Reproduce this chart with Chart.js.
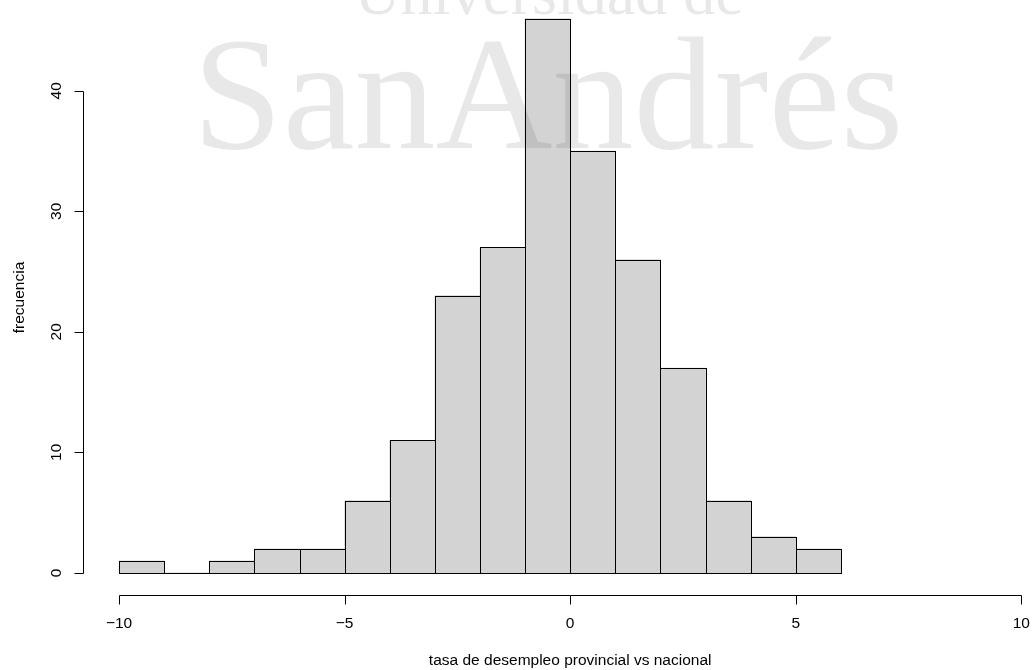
<!DOCTYPE html>
<html>
<head>
<meta charset="utf-8">
<script src="https://cdn.jsdelivr.net/npm/chart.js@4/dist/chart.umd.min.js"></script>
<style>
  html, body { margin: 0; padding: 0; background: #fff; }
  #hist { display: block; }
</style>
</head>
<body>
<canvas id="hist" width="1033" height="670"></canvas>
<script>
// histogram bins (edges) and counts
const binEdges = [-10, -9, -8, -7, -6, -5, -4, -3, -2, -1, 0, 1, 2, 3, 4, 5, 6];
const counts = [1, 0, 1, 2, 2, 6, 11, 23, 27, 46, 35, 26, 17, 6, 3, 2];

const xTicks = [-10, -5, 0, 5, 10];
const yTicks = [0, 10, 20, 30, 40];

const xTitle = 'tasa de desempleo provincial vs nacional';
const yTitle = 'frecuencia';
const watermarkTop = 'Universidad de';
const watermarkMain = 'SanAndrés';

const AXIS_FONT = '15.5px "Liberation Sans", Arial, Helvetica, sans-serif';

const points = counts.map((c, i) => ({ x: (binEdges[i] + binEdges[i + 1]) / 2, y: c }));

const fmt = v => String(v).replace('-', '\u2212');

// R-style outlines, axes, labels and the watermark
const rStylePlugin = {
    id: 'rStyle',
    afterDatasetsDraw(chart) {
        const ctx = chart.ctx;
        const meta = chart.getDatasetMeta(0);
        ctx.save();
        ctx.strokeStyle = '#000';
        ctx.lineWidth = 1;
        meta.data.forEach(bar => {
            const l = Math.round(bar.x - bar.width / 2) + 0.5;
            const r = Math.round(bar.x + bar.width / 2) + 0.5;
            const t = Math.round(bar.y) + 0.5;
            const b = Math.round(bar.base) + 0.5;
            ctx.strokeRect(l, Math.min(t, b), r - l, Math.abs(b - t));
        });
        ctx.restore();
    },
    afterDraw(chart) {
        const ctx = chart.ctx;
        const xs = chart.scales.x;
        const ys = chart.scales.y;
        const area = chart.chartArea;
        ctx.save();
        ctx.strokeStyle = '#000';
        ctx.fillStyle = '#000';
        ctx.lineWidth = 1;
        ctx.font = AXIS_FONT;

        // x axis
        const axY = Math.round(area.bottom) + 0.5;
        const x0 = Math.round(xs.getPixelForValue(xTicks[0])) + 0.5;
        const x1 = Math.round(xs.getPixelForValue(xTicks[xTicks.length - 1])) + 0.5;
        ctx.beginPath();
        ctx.moveTo(x0, axY);
        ctx.lineTo(x1, axY);
        xTicks.forEach(v => {
            const px = Math.round(xs.getPixelForValue(v)) + 0.5;
            ctx.moveTo(px, axY);
            ctx.lineTo(px, axY + 9);
        });
        ctx.stroke();
        ctx.textAlign = 'center';
        ctx.textBaseline = 'middle';
        xTicks.forEach(v => {
            ctx.fillText(fmt(v), xs.getPixelForValue(v), axY + 28);
        });
        const xMid = xs.getPixelForValue((xTicks[0] + xTicks[xTicks.length - 1]) / 2);
        ctx.fillText(xTitle, xMid, axY + 65);

        // y axis
        const axX = Math.round(area.left) + 0.5;
        const y0 = Math.round(ys.getPixelForValue(yTicks[0])) + 0.5;
        const y1 = Math.round(ys.getPixelForValue(yTicks[yTicks.length - 1])) + 0.5;
        ctx.beginPath();
        ctx.moveTo(axX, y0);
        ctx.lineTo(axX, y1);
        yTicks.forEach(v => {
            const py = Math.round(ys.getPixelForValue(v)) + 0.5;
            ctx.moveTo(axX, py);
            ctx.lineTo(axX - 9, py);
        });
        ctx.stroke();
        yTicks.forEach(v => {
            ctx.save();
            ctx.translate(axX - 27, ys.getPixelForValue(v));
            ctx.rotate(-Math.PI / 2);
            ctx.fillText(fmt(v), 0, 0);
            ctx.restore();
        });
        ctx.save();
        ctx.translate(axX - 64, (area.top + area.bottom) / 2);
        ctx.rotate(-Math.PI / 2);
        ctx.fillText(yTitle, 0, 0);
        ctx.restore();

        // watermark over the plot
        ctx.fillStyle = 'rgba(0, 0, 0, 0.09)';
        ctx.textBaseline = 'alphabetic';
        ctx.font = '64px "Liberation Serif", "Times New Roman", serif';
        ctx.fillText(watermarkTop, 549, 14);
        ctx.font = '162px "Liberation Serif", "Times New Roman", serif';
        ctx.fillText(watermarkMain, 548, 148);
        ctx.restore();
    }
};

new Chart(document.getElementById('hist'), {
    type: 'bar',
    data: {
        datasets: [{
            data: points,
            backgroundColor: '#d3d3d3',
            borderWidth: 0,
            barPercentage: 1,
            categoryPercentage: 1
        }]
    },
    options: {
        responsive: false,
        animation: false,
        layout: { padding: { left: 83, right: 0, top: 0, bottom: 75 } },
        plugins: { legend: { display: false }, tooltip: { enabled: false } },
        scales: {
            x: { type: 'linear', display: false, offset: false, min: -10.8, max: 10.26 },
            y: { display: false, min: -1.84, max: 47.54 }
        }
    },
    plugins: [rStylePlugin]
});
</script>
</body>
</html>
